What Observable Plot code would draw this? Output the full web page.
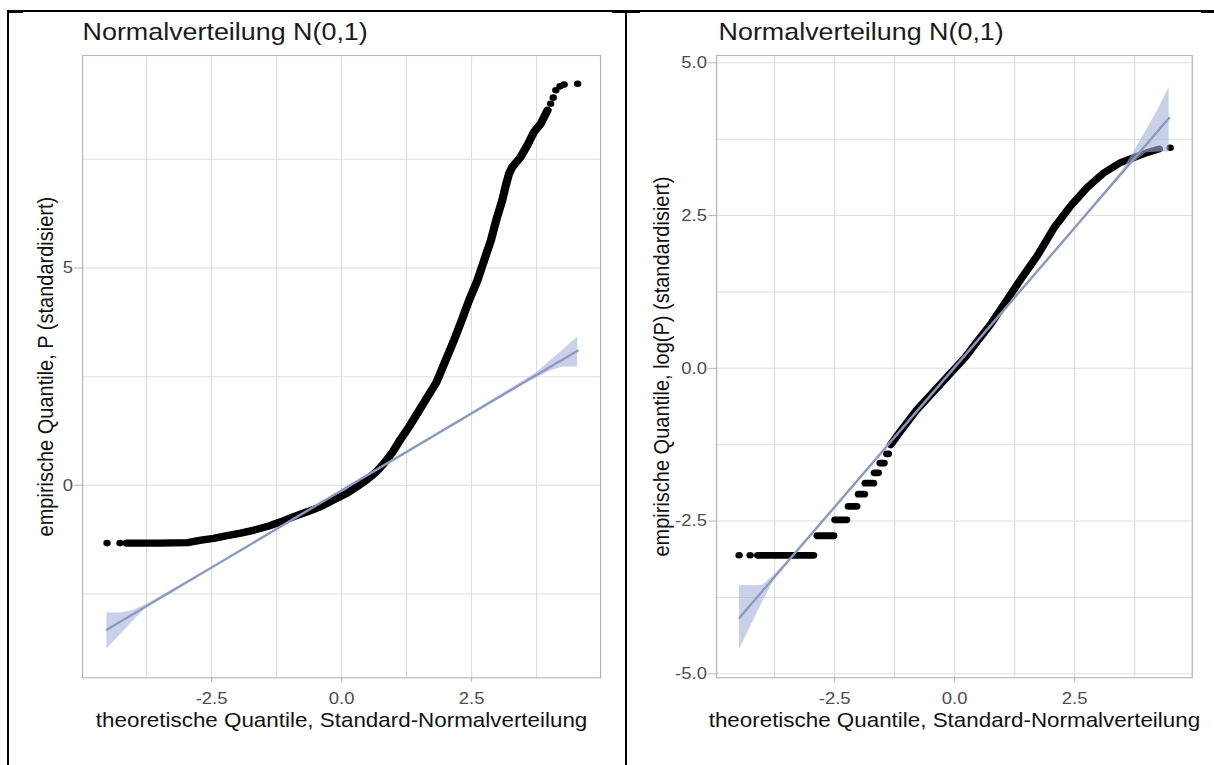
<!DOCTYPE html>
<html>
<head>
<meta charset="utf-8">
<script src="https://cdn.jsdelivr.net/npm/d3@7"></script>
<script src="https://cdn.jsdelivr.net/npm/@observablehq/plot@0.6"></script>
<style>
  html, body { margin: 0; padding: 0; background: #fff; width: 1214px; height: 765px; overflow: hidden; }
  #root { position: relative; width: 1214px; height: 765px; }
  .panel { position: absolute; top: 0; transform-origin: 0 0; transform: scaleX(1.12); }
  .bd { position: absolute; background: #000; }
</style>
</head>
<body>
<div id="root">
  <div id="left" class="panel" style="left:0px"></div>
  <div id="right" class="panel" style="left:622px"></div>
  <div class="bd" style="left:7px;top:10px;width:1207px;height:2px"></div>
  <div class="bd" style="left:7px;top:10px;width:16px;height:3px"></div>
  <div class="bd" style="left:612px;top:10px;width:28px;height:3px"></div>
  <div class="bd" style="left:1201px;top:10px;width:13px;height:3px"></div>
  <div class="bd" style="left:7px;top:10px;width:2px;height:755px"></div>
  <div class="bd" style="left:625px;top:10px;width:2px;height:755px"></div>
</div>
<script>
// ---------- shared texts / ticks ----------
const titleText = "Normalverteilung N(0,1)";
const xTitle = "theoretische Quantile, Standard-Normalverteilung";
const leftYTitle = "empirische Quantile, P (standardisiert)";
const rightYTitle = "empirische Quantile, log(P) (standardisiert)";
const xTicks = [-2.5, 0, 2.5];
const xMinor = [-3.75, -1.25, 1.25, 3.75];
const leftYTicks = [0, 5];
const leftYMinor = [-2.5, 2.5, 7.5];
const rightYTicks = [-5, -2.5, 0, 2.5, 5];
const rightYMinor = [-3.75, -1.25, 1.25, 3.75];

// ---------- left panel: P ----------
const leftCurveX = [-4.13, -3.5, -2.96, -2.7, -2.46, -2.2, -1.94, -1.68, -1.43, -1.17, -0.92, -0.66, -0.40, -0.14, 0.11, 0.30, 0.49, 0.66, 0.82, 0.98, 1.13, 1.30, 1.46, 1.65, 1.82, 2.00, 2.16, 2.32, 2.45, 2.61, 2.74, 2.87, 2.99, 3.09, 3.15, 3.22, 3.28, 3.44, 3.57, 3.70, 3.83, 3.96];
const leftCurveY = [-1.33, -1.33, -1.32, -1.26, -1.22, -1.16, -1.10, -1.03, -0.95, -0.84, -0.72, -0.61, -0.49, -0.33, -0.18, -0.03, 0.13, 0.30, 0.51, 0.76, 1.05, 1.35, 1.66, 2.03, 2.36, 2.87, 3.33, 3.83, 4.25, 4.71, 5.17, 5.63, 6.17, 6.56, 6.86, 7.17, 7.32, 7.55, 7.82, 8.13, 8.32, 8.63];
const leftDotX = [-4.51, -4.26, 4.02, 4.07, 4.12, 4.20, 4.28, 4.54];
const leftDotY = [-1.33, -1.33, 8.78, 8.92, 9.09, 9.18, 9.22, 9.24];
const leftLineX = [-4.51, 4.54];
const leftLineY = [-3.32, 3.10];
const leftBandX = [-4.51, -4.25, -4.0, -3.75, -3.4, -2.5, 0, 2.5, 3.4, 3.75, 4.0, 4.25, 4.54];
const leftBandLo = [-3.77, -3.44, -3.12, -2.81, -2.56, -1.90, -0.125, 1.65, 2.27, 2.47, 2.62, 2.72, 2.72];
const leftBandHi = [-2.94, -2.94, -2.88, -2.74, -2.50, -1.88, -0.105, 1.67, 2.33, 2.59, 2.85, 3.10, 3.41];

// ---------- right panel: log(P) ----------
const rightCurveX = [-1.33, -1.10, -0.81, -0.46, -0.12, 0.23, 0.47, 0.75, 1.03, 1.38, 1.72, 2.07, 2.42, 2.76, 3.11, 3.46, 3.74, 4.01, 4.26];
const rightCurveY = [-1.25, -1.00, -0.70, -0.40, -0.11, 0.19, 0.44, 0.72, 1.05, 1.46, 1.84, 2.30, 2.66, 2.96, 3.20, 3.37, 3.45, 3.53, 3.59];
const rightDotX = [-4.49, -4.26, 4.49];
const rightDotY = [-3.06, -3.06, 3.61];
const rightStepY = [-3.06, -2.74, -2.48, -2.26, -2.06, -1.88, -1.71, -1.55, -1.40];
const rightStepX1 = [-4.09, -2.85, -2.48, -2.20, -1.99, -1.85, -1.66, -1.54, -1.40];
const rightStepX2 = [-2.93, -2.51, -2.24, -2.03, -1.87, -1.68, -1.58, -1.46, -1.37];
const rightLineX = [-4.48, 4.47];
const rightLineY = [-4.08, 4.10];
const rightBandX = [-4.48, -4.25, -4.0, -3.75, -3.5, -2.5, 0, 2.5, 3.5, 3.75, 4.0, 4.25, 4.47];
const rightBandLo = [-4.60, -4.23, -3.83, -3.46, -3.21, -2.28, 0.00, 2.29, 3.18, 3.38, 3.53, 3.54, 3.54];
const rightBandHi = [-3.56, -3.56, -3.55, -3.38, -3.17, -2.26, 0.03, 2.31, 3.24, 3.56, 3.90, 4.25, 4.60];

const SX = 1.12;           // horizontal stretch of the reference image
const FRAME_TOP = 55, FRAME_BOTTOM = 677.3, H = 765;

function zip(xs, ys) { return xs.map((x, i) => ({x, y: ys[i]})); }

function panel(o) {
  const curve = zip(o.curveX, o.curveY);
  const dots = zip(o.dotX, o.dotY);
  const reg = zip(o.lineX, o.lineY);
  const band = o.bandX.map((x, i) => ({x, lo: o.bandLo[i], hi: o.bandHi[i]}));
  const steps = (o.stepY || []).map((y, i) => ({y, x1: o.stepX1[i], x2: o.stepX2[i]}));
  return Plot.plot({
    width: o.width,
    height: H,
    marginLeft: o.ml,
    marginRight: o.mr,
    marginTop: FRAME_TOP,
    marginBottom: H - FRAME_BOTTOM,
    style: {fontFamily: "'Liberation Sans', Arial, sans-serif", background: "transparent", overflow: "visible"},
    x: {domain: o.xd},
    y: {domain: o.yd},
    marks: [
      Plot.gridX(xMinor.concat(xTicks), {stroke: "#dedede", strokeOpacity: 1, strokeWidth: 1}),
      Plot.gridY(o.yMinor.concat(o.yTicks), {stroke: "#dedede", strokeOpacity: 1, strokeWidth: 1}),
      Plot.line(curve, {x: "x", y: "y", stroke: "#000", strokeWidth: o.curveWidth, strokeLinecap: "round", strokeLinejoin: "round"}),
      Plot.ruleY(steps, {y: "y", x1: "x1", x2: "x2", stroke: "#000", strokeWidth: 6.8, strokeLinecap: "round"}),
      Plot.dot(dots, {x: "x", y: "y", r: 3.3, fill: "#000", stroke: "none"}),
      Plot.areaY(band, {x: "x", y1: "lo", y2: "hi", fill: "#a5b1d8", fillOpacity: 0.6}),
      Plot.line(reg, {x: "x", y: "y", stroke: "#8a99c0", strokeWidth: 2.2}),
      Plot.frame({stroke: "#b5b5b5", strokeWidth: 1.1}),
      Plot.axisX(xTicks, {tickSize: 4.5, tickPadding: 10, fontSize: 16.5, tickFormat: d => d.toFixed(1), stroke: "#b3b3b3", fill: "#4d4d4d", label: null}),
      Plot.axisY(o.yTicks, {tickSize: 7.1, tickPadding: 1.5, fontSize: 16.5, tickFormat: o.yFormat, stroke: "#b3b3b3", fill: "#4d4d4d", label: null}),
      Plot.text([titleText], {frameAnchor: "top-left", textAnchor: "start", lineAnchor: "middle", dx: o.titleDx, dy: -22.7, fontSize: 24, fill: "#1a1a1a"}),
      Plot.text([xTitle], {frameAnchor: "bottom", textAnchor: "middle", lineAnchor: "middle", dy: 42.8, fontSize: 20, fill: "#111"}),
      Plot.text([o.yTitle], {frameAnchor: "left", textAnchor: "middle", lineAnchor: "middle", rotate: -90, dx: o.yTitleDx, fontSize: 20, fill: "#111"})
    ]
  });
}

document.getElementById("left").appendChild(panel({
  width: 545, ml: 82 / SX, mr: 545 - 600 / SX,
  xd: [-4.98, 4.98], yd: [-4.43, 9.89],
  yTicks: leftYTicks, yMinor: leftYMinor, yFormat: d => String(d),
  curveX: leftCurveX, curveY: leftCurveY, dotX: leftDotX, dotY: leftDotY, curveWidth: 7.4,
  lineX: leftLineX, lineY: leftLineY,
  bandX: leftBandX, bandLo: leftBandLo, bandHi: leftBandHi,
  titleDx: 0, yTitle: leftYTitle, yTitleDx: -(82 - 45) / SX
}));

const rW = (1214 - 622) / SX;
document.getElementById("right").appendChild(panel({
  width: rW, ml: (716 - 622) / SX, mr: rW - (1191.7 - 622) / SX,
  xd: [-4.96, 4.95], yd: [-5.065, 5.12],
  yTicks: rightYTicks, yMinor: rightYMinor, yFormat: d => d.toFixed(1),
  curveX: rightCurveX, curveY: rightCurveY, dotX: rightDotX, dotY: rightDotY, curveWidth: 7,
  stepY: rightStepY, stepX1: rightStepX1, stepX2: rightStepX2,
  lineX: rightLineX, lineY: rightLineY,
  bandX: rightBandX, bandLo: rightBandLo, bandHi: rightBandHi,
  titleDx: 2 / SX, yTitle: rightYTitle, yTitleDx: -(716 - 661) / SX
}));
</script>
</body>
</html>
